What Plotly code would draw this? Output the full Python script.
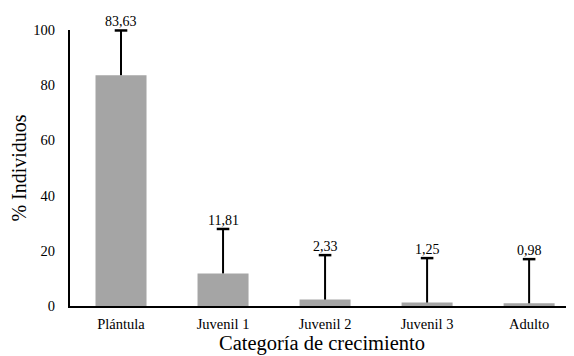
import plotly.graph_objects as go

categories = ["Plántula", "Juvenil 1", "Juvenil 2", "Juvenil 3", "Adulto"]
values = [83.63, 11.81, 2.33, 1.25, 0.98]
errors = [16.2, 16.1, 16.1, 16.1, 16.0]
y_ticks = [0, 20, 40, 60, 80, 100]

labels = [f"{v:.2f}".replace(".", ",") for v in values]
tops = [v + e for v, e in zip(values, errors)]

FONT = "Liberation Serif"

fig = go.Figure()
fig.add_trace(go.Bar(
    x=categories, y=values,
    marker=dict(color="#A5A5A5", line=dict(width=0)),
    error_y=dict(type="data", array=errors, arrayminus=[0]*len(values), symmetric=False,
                 color="black", thickness=2, width=0),
    width=0.5,
))
fig.add_trace(go.Scatter(
    x=categories, y=tops, mode="markers",
    marker=dict(symbol="line-ew", size=9, line=dict(color="black", width=2.5)),
    cliponaxis=False, hoverinfo="skip",
))
for c, t, lab in zip(categories, tops, labels):
    fig.add_annotation(x=c, y=t, text=lab, showarrow=False, yanchor="bottom", yshift=-1,
                       font=dict(family=FONT, size=14, color="black"))

fig.update_layout(
    width=566, height=348,
    margin=dict(l=62, r=0, t=22, b=50, autoexpand=False),
    paper_bgcolor="white", plot_bgcolor="white",
    showlegend=False,
    font=dict(family=FONT, color="black", size=13),
    xaxis=dict(range=[-0.5, 4.44], showline=True, linecolor="black", linewidth=2,
               ticks="outside", ticklen=4, tickcolor="white", showgrid=False, automargin=False,
               tickfont=dict(family=FONT, size=14.5),
               title=dict(text="Categoría de crecimiento", font=dict(family=FONT, size=20.5), standoff=1)),
    yaxis=dict(range=[0, 100], tickvals=y_ticks, showline=True, linecolor="black", linewidth=2,
               ticks="outside", ticklen=10, tickcolor="white", showgrid=False, zeroline=False,
               automargin=False,
               tickfont=dict(family=FONT, size=14.5),
               title=dict(text="% Individuos", font=dict(family=FONT, size=20), standoff=6)),
)

fig.write_html("out.html")
